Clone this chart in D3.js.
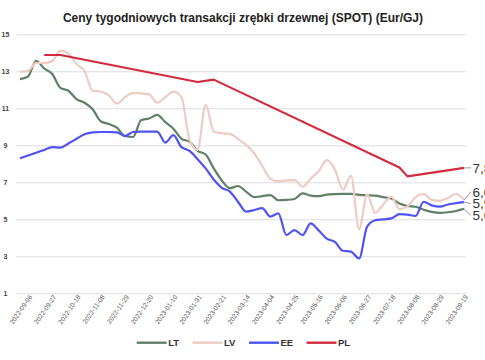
<!DOCTYPE html>
<html>
<head>
<meta charset="utf-8">
<script src="https://cdn.jsdelivr.net/npm/d3@7"></script>
<style>
  html, body { margin: 0; padding: 0; background: #fff; }
  svg { display: block; font-family: "Liberation Sans", Arial, sans-serif; }
</style>
</head>
<body>
<svg id="chart" width="485" height="360"></svg>
<script>
// ---------- DATA ----------
const categories = [
  "2022-09-06","2022-09-13","2022-09-20","2022-09-27","2022-10-04","2022-10-11","2022-10-18","2022-10-25",
  "2022-11-01","2022-11-08","2022-11-15","2022-11-22","2022-11-29","2022-12-06","2022-12-13","2022-12-20",
  "2022-12-27","2023-01-03","2023-01-10","2023-01-17","2023-01-24","2023-01-31","2023-02-07","2023-02-14",
  "2023-02-21","2023-02-28","2023-03-07","2023-03-14","2023-03-21","2023-03-28","2023-04-04","2023-04-11",
  "2023-04-18","2023-04-25","2023-05-02","2023-05-09","2023-05-16","2023-05-23","2023-05-30","2023-06-06",
  "2023-06-13","2023-06-20","2023-06-27","2023-07-04","2023-07-11","2023-07-18","2023-07-25","2023-08-01",
  "2023-08-08","2023-08-15","2023-08-22","2023-08-29","2023-09-05","2023-09-12","2023-09-19","2023-09-26"
];
const tickLabels = [
  "2022-09-06","2022-09-27","2022-10-18","2022-11-08","2022-11-29","2022-12-20","2023-01-10",
  "2023-01-31","2023-02-21","2023-03-14","2023-04-04","2023-04-25","2023-05-16","2023-06-06",
  "2023-06-27","2023-07-18","2023-08-08","2023-08-29","2023-09-19"
];
const yTicks = [1, 3, 5, 7, 9, 11, 13, 15];

const LT = [12.58,12.72,13.57,13.15,12.85,12.1,11.95,11.5,11.3,10.95,10.3,10.15,9.95,9.5,9.45,10.35,
  10.45,10.64,10.25,9.9,9.35,9.2,8.7,8.5,7.75,7.1,6.68,6.8,6.5,6.2,6.25,6.31,
  6.03,6.05,6.1,6.4,6.28,6.25,6.33,6.36,6.37,6.37,6.32,6.3,6.28,6.2,6.12,5.85,
  5.72,5.68,5.52,5.4,5.35,5.38,5.45,5.57];
const LV = [12.98,13.02,13.45,13.45,13.55,14.12,13.95,13.4,13.0,11.95,11.9,11.7,11.25,11.6,11.82,11.81,
  11.75,11.3,11.6,11.9,11.6,9.3,8.75,11.18,9.75,9.65,9.62,9.35,9.02,8.57,7.9,7.2,
  7.05,7.1,7.12,6.76,7.2,7.6,8.2,7.7,6.6,7.35,4.45,6.35,5.35,5.8,6.22,5.55,
  5.7,6.2,6.37,6.05,6.0,6.15,6.38,6.04];
const EE = [8.3,8.45,8.6,8.75,8.9,8.87,9.1,9.35,9.6,9.7,9.72,9.72,9.7,9.5,9.72,9.74,
  9.74,9.74,9.15,9.55,8.9,8.7,8.25,7.75,7.15,6.7,6.5,5.95,5.42,5.5,5.6,5.15,
  5.32,4.15,4.42,4.15,4.78,4.4,3.95,3.78,3.3,3.25,2.88,4.6,4.95,5.0,5.05,5.28,
  5.25,5.18,5.95,5.75,5.68,5.8,5.87,5.93];
const PL = [null,null,null,13.88,null,13.88,null,null,null,null,null,null,null,null,null,null,
  null,null,null,null,null,null,12.42,null,12.55,null,null,null,null,null,null,null,
  null,null,null,null,null,null,null,null,null,null,null,null,null,null,null,7.8,
  7.32,null,null,null,null,null,null,7.78];

const seriesNames = ["LT", "LV", "EE", "PL"];
const seriesValues = [LT, LV, EE, PL];
const seriesColors = ["#617f67", "#ecccc4", "#4f53f3", "#d12b3d"];

// ---------- CHART ----------
const svg = d3.select("#chart");

const x = d3.scalePoint().domain(categories).range([20, 464]);
const y = d3.scaleLinear().domain([1, 15]).range([293.3, 34.3]);

// title
svg.append("text")
  .attr("x", 243).attr("y", 22)
  .attr("text-anchor", "middle")
  .attr("font-size", 12).attr("font-weight", "bold").attr("fill", "#222")
  .text("Ceny tygodniowych transakcji zrębki drzewnej (SPOT) (Eur/GJ)");

// gridlines + y labels
const yAxis = d3.axisLeft(y).tickValues(yTicks).tickSize(-(466 - 16)).tickFormat(d3.format("d"));
const gy = svg.append("g").attr("transform", "translate(16,0)").call(yAxis);
gy.select(".domain").remove();
gy.selectAll(".tick line").attr("stroke", "#dcdcdc").attr("stroke-width", 1);
gy.selectAll(".tick text")
  .attr("x", -10.5).attr("dy", "0.35em")
  .attr("text-anchor", "middle")
  .attr("font-size", 7).attr("font-weight", "bold").attr("fill", "#444");

// x axis labels
const xAxis = d3.axisBottom(x).tickValues(tickLabels).tickSize(0);
const gx = svg.append("g").attr("transform", "translate(0,293.3)").call(xAxis);
gx.select(".domain").remove();
gx.selectAll(".tick text")
  .attr("text-anchor", "end")
  .attr("x", 0).attr("y", 0).attr("dy", 0)
  .attr("transform", "translate(12,3.7) rotate(-55)")
  .attr("font-size", 6.6).attr("fill", "#555");

// lines
seriesNames.forEach((name, k) => {
  const pts = categories.map((c, i) => ({ c, v: seriesValues[k][i] })).filter(d => d.v != null);
  const line = d3.line()
    .x(d => x(d.c))
    .y(d => y(d.v))
    .curve(name === "PL" ? d3.curveLinear : d3.curveMonotoneX);
  svg.append("path")
    .datum(pts)
    .attr("fill", "none")
    .attr("stroke", seriesColors[k])
    .attr("stroke-width", 2.2)
    .attr("stroke-linejoin", "round")
    .attr("d", line);
});

// end labels with simple collision avoidance
const ends = seriesNames.map((name, k) => {
  const vals = seriesValues[k];
  const v = vals[vals.length - 1];
  return { name, v, y0: y(v), y: y(v) };
}).sort((a, b) => a.y0 - b.y0);
const gap = 11.8;
for (let iter = 0; iter < 50; iter++) {
  for (let j = 1; j < ends.length; j++) {
    const d = ends[j].y - ends[j - 1].y;
    if (d < gap) {
      const push = (gap - d) / 2;
      ends[j].y += push;
      ends[j - 1].y -= push;
    }
  }
}
const lastX = x(categories[categories.length - 1]);
const fmt = v => d3.format(".1f")(v).replace(".", ",");
ends.forEach(e => {
  svg.append("line")
    .attr("x1", lastX).attr("y1", e.y0)
    .attr("x2", lastX + 7).attr("y2", e.y)
    .attr("stroke", "#999").attr("stroke-width", 1);
  svg.append("text")
    .attr("x", lastX + 8.5).attr("y", e.y)
    .attr("dy", "0.36em")
    .attr("font-size", 13.5).attr("fill", "#333")
    .text(fmt(e.v));
});

// legend
const legendX = [136.7, 192.5, 249, 306.5];
const lg = svg.append("g");
seriesNames.forEach((name, k) => {
  lg.append("line")
    .attr("x1", legendX[k]).attr("x2", legendX[k] + 30)
    .attr("y1", 342.7).attr("y2", 342.7)
    .attr("stroke", seriesColors[k]).attr("stroke-width", 2.4);
  lg.append("text")
    .attr("x", legendX[k] + 31.5).attr("y", 342.7).attr("dy", "0.36em")
    .attr("font-size", 9.5).attr("font-weight", "bold").attr("fill", "#333")
    .text(name);
});
</script>
</body>
</html>
